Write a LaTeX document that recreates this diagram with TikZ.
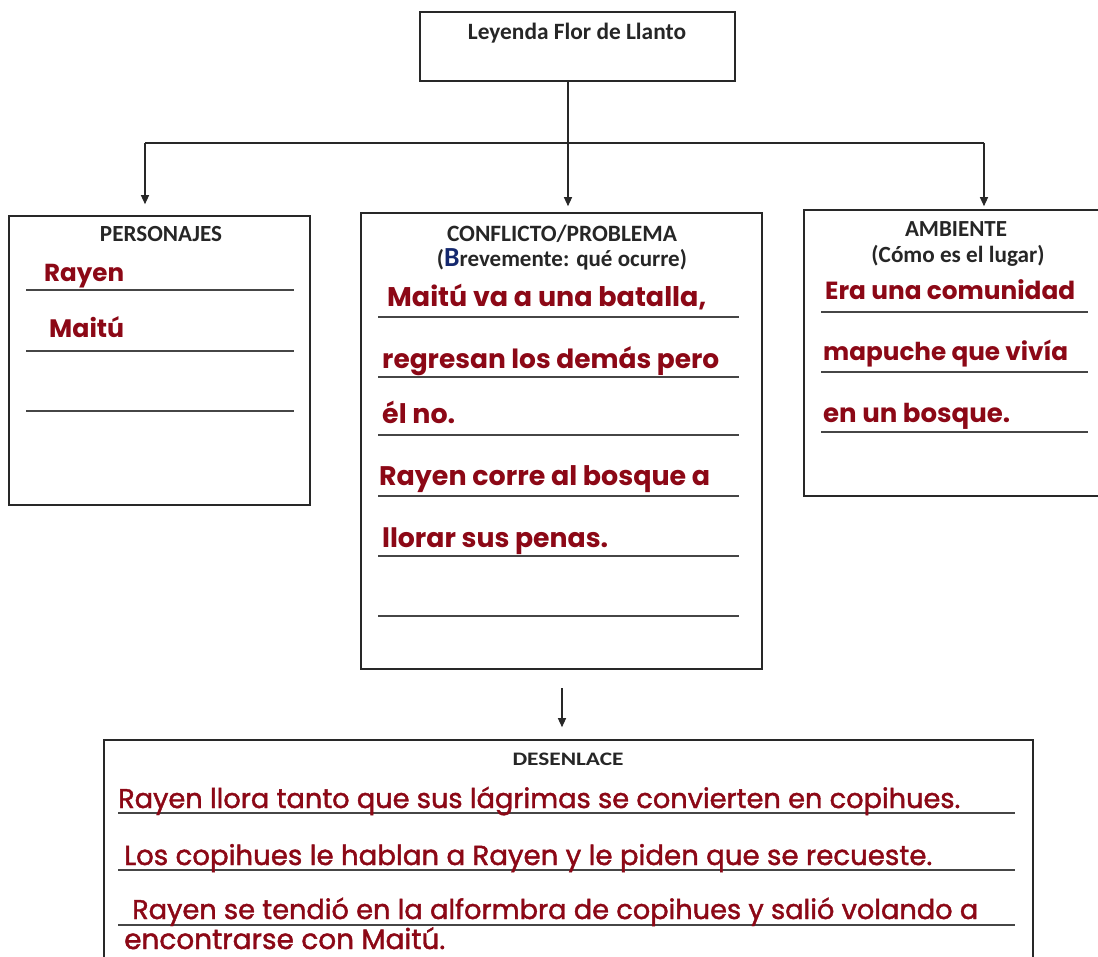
\documentclass[tikz,border=0pt]{standalone}
\usepackage{fontspec}
\setmainfont{Carlito}
\newfontfamily\hand{Poppins}
\newfontfamily\handm{Poppins}[FakeBold=1.5]
\usetikzlibrary{arrows.meta}
\definecolor{hand}{RGB}{140,8,22}
\definecolor{ink}{RGB}{40,40,40}
\definecolor{rulec}{RGB}{70,70,70}
\definecolor{navyb}{RGB}{20,40,110}
\newcommand\fw[2]{\resizebox{#1pt}{!}{#2}}
\begin{document}
\begin{tikzpicture}[x=1pt,y=-1pt,
  box/.style={draw=ink, line width=1.6pt, rectangle, inner sep=0pt},
  rule/.style={draw=rulec, line width=2pt},
  lab/.style={inner sep=0pt, anchor=base, font=\bfseries, text=black!85},
  hw/.style={inner sep=0pt, anchor=base west, font=\hand\bfseries, text=hand},
  hwl/.style={inner sep=0pt, anchor=base west, font=\handm, text=hand},
  arr/.style={draw=ink, line width=1.3pt, -{Triangle[length=9pt,width=8pt]}},
  conn/.style={draw=ink, line width=1.3pt}]
\clip (0,0) rectangle (1098,957);
\fill[white] (0,0) rectangle (1098,957);

% boxes
\node[box, minimum width=315, minimum height=69] (title) at (577.5,46.5) {};
\node[box, minimum width=301, minimum height=289] (pers) at (159.5,360.5) {};
\node[box, minimum width=401, minimum height=456] (conf) at (561.5,441) {};
\node[box, minimum width=306, minimum height=286] (amb) at (957,353) {};
\node[box, minimum width=929, minimum height=240] (des) at (568.5,860) {};

% connectors
\coordinate (j) at (568,143);
\coordinate (hl) at (145,143);
\coordinate (hr) at (984,143);
\coordinate (ba) at (562,688);
\draw[conn] (title.south -| j) -- (j);
\draw[conn] (hl) -- (hr);
\draw[arr, shorten >=6pt] (j) -- (j |- conf.north);
\draw[arr, shorten >=11pt] (hl) -- (hl |- pers.north);
\draw[arr, shorten >=3pt] (hr) -- (hr |- amb.north);
\draw[arr, shorten >=12pt] (ba) -- (ba |- des.north);

% headings
\node[lab] (tt) at (577,40) {\fw{218}{Leyenda Flor de Llanto}};
\node[lab] (ph) at (161,242) {\fw{122}{PERSONAJES}};
\node[lab] (ch1) at (562,242) {\fw{230}{CONFLICTO/PROBLEMA}};
\node[lab] (ch2) at (562,267) {\fw{250}{(\textcolor{navyb}{\large B}revemente: qué ocurre)}};
\node[lab] (ah1) at (956,237) {\fw{102}{AMBIENTE}};
\node[lab] (ah2) at (958,263) {\fw{173}{(Cómo es el lugar)}};
\node[lab] (dh) at (568,765) {\resizebox{111pt}{12.5pt}{DESENLACE}};

% rules left
\draw[rule] (26,290) -- (294,290);
\draw[rule] (26,351) -- (294,351);
\draw[rule] (26,411) -- (294,411);
% rules center
\foreach \y in {317,377,435,496,556,616} \draw[rule] (378,\y) -- (739,\y);
% rules right
\foreach \y in {312,372,432} \draw[rule] (821,\y) -- (1088,\y);
% rules bottom
\foreach \y in {813,870,925} \draw[rule] (118,\y) -- (1015,\y);

% handwriting left
\node[hw] (p1) at (44,282) {\fw{80}{Rayen}};
\node[hw] (p2) at (49,338) {\fw{75}{Maitú}};
% handwriting center
\node[hw] (c1) at (387,307) {\fw{319}{Maitú va a una batalla,}};
\node[hw] (c2) at (382,369) {\fw{337}{regresan los demás pero}};
\node[hw] (c3) at (382,424) {\fw{73}{él no.}};
\node[hw] (c4) at (379,485) {\fw{331}{Rayen corre al bosque a}};
\node[hw] (c5) at (382,547) {\fw{226}{llorar sus penas.}};
% handwriting right
\node[hw] (a1) at (825,300) {\fw{250}{Era una comunidad}};
\node[hw] (a2) at (823,361) {\fw{245}{mapuche que vivía}};
\node[hw] (a3) at (823,423) {\fw{187}{en un bosque.}};
% handwriting bottom
\node[hwl] (d1) at (118,808) {\fw{842}{Rayen llora tanto que sus lágrimas se convierten en copihues.}};
\node[hwl] (d2) at (124,865) {\fw{808}{Los copihues le hablan a Rayen y le piden que se recueste.}};
\node[hwl] (d3) at (132,919) {\fw{846}{Rayen se tendió en la alformbra de copihues y salió volando a}};
\node[hwl] (d4) at (124,949) {\fw{321}{encontrarse con Maitú.}};
\end{tikzpicture}
\end{document}
